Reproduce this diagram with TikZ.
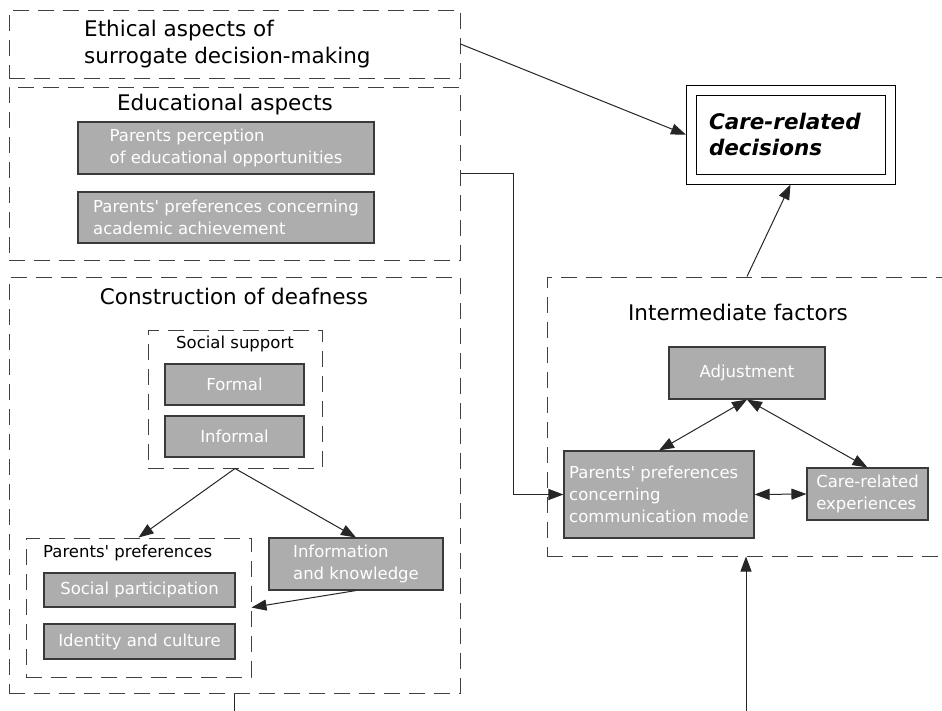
\documentclass[tikz,border=0pt]{standalone}
\usepackage{fontspec}
\setmainfont{DejaVu Sans}
\usetikzlibrary{arrows.meta, positioning}
\definecolor{boxgray}{HTML}{ADADAD}
\definecolor{edgegray}{HTML}{3A3A3A}
\begin{document}
\begin{tikzpicture}[x=1pt, y=-1pt,
  gbox/.style={draw=edgegray, fill=boxgray, text=white, line width=1.1pt, inner sep=2pt, align=left, font=\fontsize{16.5}{22}\selectfont},
  dbox/.style={draw=black!75, dash pattern=on 16pt off 9pt, line width=1pt},
  ttl/.style={inner sep=0pt, font=\fontsize{21.5}{27}\selectfont},
  lbl/.style={inner sep=0pt, font=\fontsize{16.5}{22}\selectfont},
  arr/.style={-{Triangle[length=15pt, width=11pt]}, line width=1pt, black!85},
  darr/.style={{Triangle[length=15pt, width=11pt]}-{Triangle[length=15pt, width=11pt]}, line width=1pt, black!85}]
  \clip (0,0) rectangle (942,710);
  \node[dbox, minimum width=451pt, minimum height=68pt] (eth) at (234.5,44) {};
  \node[ttl, anchor=west, align=left] (etht) at (84,44) {Ethical aspects of\\surrogate decision-making};
  \node[dbox, minimum width=451pt, minimum height=173pt] (edu) at (234.5,173.5) {};
  \node[ttl] (edut) at (225,105) {Educational aspects};
  \node[gbox, minimum width=296pt, minimum height=52pt] (perc) at (226,148) {Parents perception\\of educational opportunities};
  \node[gbox, minimum width=296pt, minimum height=51pt] (acad) at (226,217.5) {Parents\textquotesingle{} preferences concerning\\academic achievement};
  \node[dbox, minimum width=451pt, minimum height=416pt] (cons) at (234.5,485) {};
  \node[ttl] (const) at (234,296) {Construction of deafness};
  \node[dbox, minimum width=174pt, minimum height=138pt] (ss) at (235,399) {};
  \node[lbl] (sst) at (235,344) {Social support};
  \node[gbox, minimum width=139pt, minimum height=41pt] (formal) at (234.5,384.5) {Formal};
  \node[gbox, minimum width=139pt, minimum height=41pt] (informal) at (234.5,436.5) {Informal};
  \node[dbox, minimum width=225pt, minimum height=139pt] (pp) at (138.5,607.5) {};
  \node[lbl, anchor=west] (ppt) at (43,553) {Parents\textquotesingle{} preferences};
  \node[gbox, minimum width=191pt, minimum height=34pt] (part) at (139.5,590) {Social participation};
  \node[gbox, minimum width=191pt, minimum height=35pt] (ident) at (139.5,641.5) {Identity and culture};
  \node[gbox, minimum width=174pt, minimum height=52pt] (info) at (356,564) {Information\\and knowledge};
  \node[draw, double, double distance=9pt, line width=1pt, minimum width=199pt, minimum height=89.5pt, outer sep=5pt, text width=163pt, inner xsep=18pt, align=left, font=\fontsize{21.5}{26}\selectfont\bfseries\itshape] (care) at (790.5,134.75) {Care-related\\decisions};
  \node[dbox, minimum width=438pt, minimum height=279pt] (inter) at (766,416.5) {};
  \node[ttl] (intert) at (738,312) {Intermediate factors};
  \node[gbox, minimum width=156pt, minimum height=52pt] (adj) at (747,373) {Adjustment};
  \node[gbox, minimum width=190pt, minimum height=87pt] (comm) at (659,494.5) {Parents\textquotesingle{} preferences\\concerning\\communication mode};
  \node[gbox, minimum width=121pt, minimum height=52pt] (exp) at (867.5,494) {Care-related\\experiences};
  \coordinate (consout) at (234.5,720);
  \coordinate (interin) at (746,720);
  \draw[arr] (eth.east) -- (care.west);
  \draw[arr] (edu.east) -- ++(53,0) |- (comm.west);
  \draw[arr] (ss.south) -- (pp.north);
  \draw[arr] (ss.south) -- (info.north);
  \draw[arr] (info.south) -- (pp.east);
  \draw[line width=1pt, black!85] (cons.south) -- (consout);
  \draw[arr] (interin) -- (interin |- inter.south);
  \draw[arr] (adj |- inter.north) -- (care.south);
  \draw[darr] (comm.north) -- (adj.south);
  \draw[darr] (adj.south) -- (exp.north);
  \draw[darr] (comm.east) -- (exp.west);
\end{tikzpicture}
\end{document}
